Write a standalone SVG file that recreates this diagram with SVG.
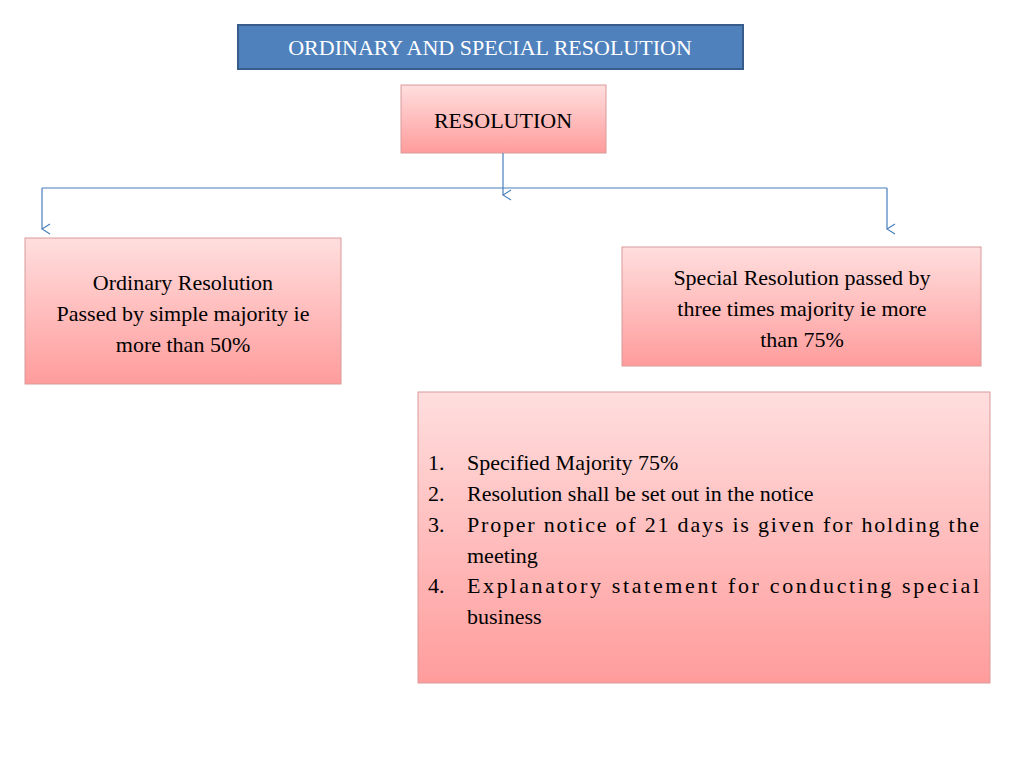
<svg xmlns="http://www.w3.org/2000/svg" width="1024" height="768" viewBox="0 0 1024 768">
<defs>
<linearGradient id="pink" x1="0" y1="0" x2="0" y2="1"><stop offset="0" stop-color="#ffdede"/><stop offset="1" stop-color="#ff9c9c"/></linearGradient>
<marker id="arr" markerWidth="12" markerHeight="10" refX="6" refY="9" orient="auto-start-reverse" markerUnits="userSpaceOnUse"><path d="M1,1 L6,9 L11,1" fill="none" stroke="#4a7ebb" stroke-width="1.2"/></marker>
</defs>
<style>
.box{fill:url(#pink);stroke:#d99a9a;stroke-width:1}
.t{font-family:"Liberation Serif",serif;font-size:22px;fill:#000}
.c{stroke:#4a7ebb;stroke-width:1.2;fill:none}
</style>
<rect width="1024" height="768" fill="#fff"/>
<g id="title"><rect x="238" y="25" width="505" height="44" fill="#4f81bd" stroke="#385d8a" stroke-width="2"/><text class="t" x="490" y="55" text-anchor="middle" fill="#fff" style="fill:#fff">ORDINARY AND SPECIAL RESOLUTION</text></g>
<g id="resolution"><rect class="box" x="401" y="85" width="205" height="68"/><text class="t" x="503" y="128" text-anchor="middle">RESOLUTION</text></g>
<g id="connectors">
<path class="c" d="M503,153 V195" marker-end="url(#arr)"/>
<path class="c" d="M42,188 H887"/>
<path class="c" d="M42,188 V229" marker-end="url(#arr)"/>
<path class="c" d="M887,188 V229" marker-end="url(#arr)"/>
</g>
<g id="ordinary"><rect class="box" x="25" y="238" width="316" height="146"/>
<text class="t" text-anchor="middle"><tspan x="183" y="290">Ordinary Resolution</tspan><tspan x="183" y="321">Passed by simple majority ie</tspan><tspan x="183" y="352">more than 50%</tspan></text></g>
<g id="special"><rect class="box" x="622" y="247" width="359" height="119"/>
<text class="t" text-anchor="middle"><tspan x="802" y="285">Special Resolution passed by</tspan><tspan x="802" y="316">three times majority ie more</tspan><tspan x="802" y="347">than 75%</tspan></text></g>
<g id="conditions"><rect class="box" x="418" y="392" width="572" height="291"/>
<text class="t"><tspan x="428" y="470">1.</tspan><tspan x="467" y="470">Specified Majority 75%</tspan>
<tspan x="428" y="501">2.</tspan><tspan x="467" y="501">Resolution shall be set out in the notice</tspan>
<tspan x="428" y="532">3.</tspan><tspan x="467" y="532" textLength="512" lengthAdjust="spacing">Proper notice of 21 days is given for holding the</tspan>
<tspan x="467" y="563">meeting</tspan>
<tspan x="428" y="593">4.</tspan><tspan x="467" y="593" textLength="512" lengthAdjust="spacing">Explanatory statement for conducting special</tspan>
<tspan x="467" y="624">business</tspan></text></g>
</svg>
